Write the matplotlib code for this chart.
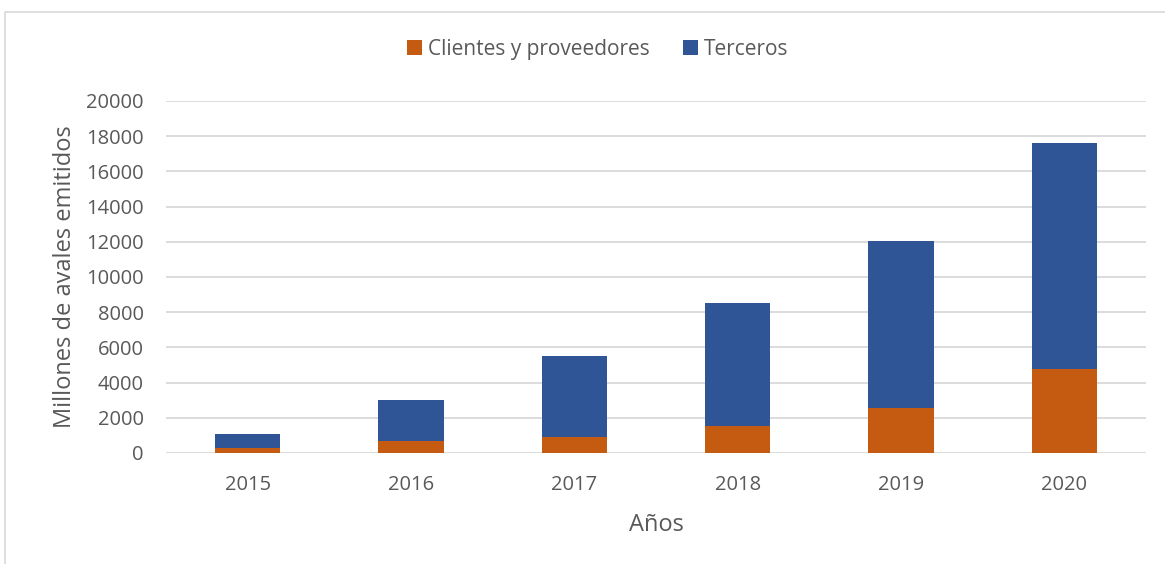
import numpy as np
import matplotlib.pyplot as plt
import matplotlib.patches as patches

# Data
years = ["2015", "2016", "2017", "2018", "2019", "2020"]
clientes = [310, 690, 910, 1530, 2540, 4780]
totales = [1070, 3020, 5500, 8500, 12030, 17640]
terceros = [t - c for t, c in zip(totales, clientes)]

orange = "#C55A11"
blue = "#2F5597"
txt = "#595959"

plt.rcParams['font.family'] = ['Open Sans', 'DejaVu Sans']

fig = plt.figure(figsize=(11.65, 5.64), dpi=100)
ax = fig.add_axes([166/1165, 1-453/564, 980/1165, 352/564])

x = np.arange(len(years))
ax.bar(x, clientes, 0.4, color=orange, label="Clientes y proveedores", zorder=3)
ax.bar(x, terceros, 0.4, bottom=clientes, color=blue, label="Terceros", zorder=3)

ax.set_xlim(-0.5, len(years) - 0.5)
ax.set_ylim(0, 20000)
ax.set_yticks(range(0, 20001, 2000))
ax.set_xticks(x)
ax.set_xticklabels(years)
ax.yaxis.grid(True, color="#D9D9D9", linewidth=1.3, zorder=0)
for s in ax.spines.values():
    s.set_visible(False)
ax.tick_params(length=0, labelsize=14.5, colors=txt)
ax.tick_params(axis="y", pad=16)
ax.tick_params(axis="x", pad=16)
ax.set_ylabel("Millones de avales emitidos", fontsize=17, color=txt)
ax.set_xlabel("Años", fontsize=17, color=txt)
ax.yaxis.set_label_coords(-0.091, 0.5)
ax.xaxis.set_label_coords(0.5, -0.17)

fig.legend(loc="center", bbox_to_anchor=(598/1165, 1 - 49/564), ncol=2, frameon=False,
           fontsize=15, labelcolor=txt, handlelength=0.7, handleheight=0.7,
           handletextpad=0.3, columnspacing=1.6)

# chart frame
fig.patches.append(patches.Rectangle((5/1165, -0.1), 1.2, 1 - 12/564 + 0.1,
                                     transform=fig.transFigure, fill=False,
                                     edgecolor="#D9D9D9", linewidth=1.2))

fig.savefig("out.png", dpi=100)
